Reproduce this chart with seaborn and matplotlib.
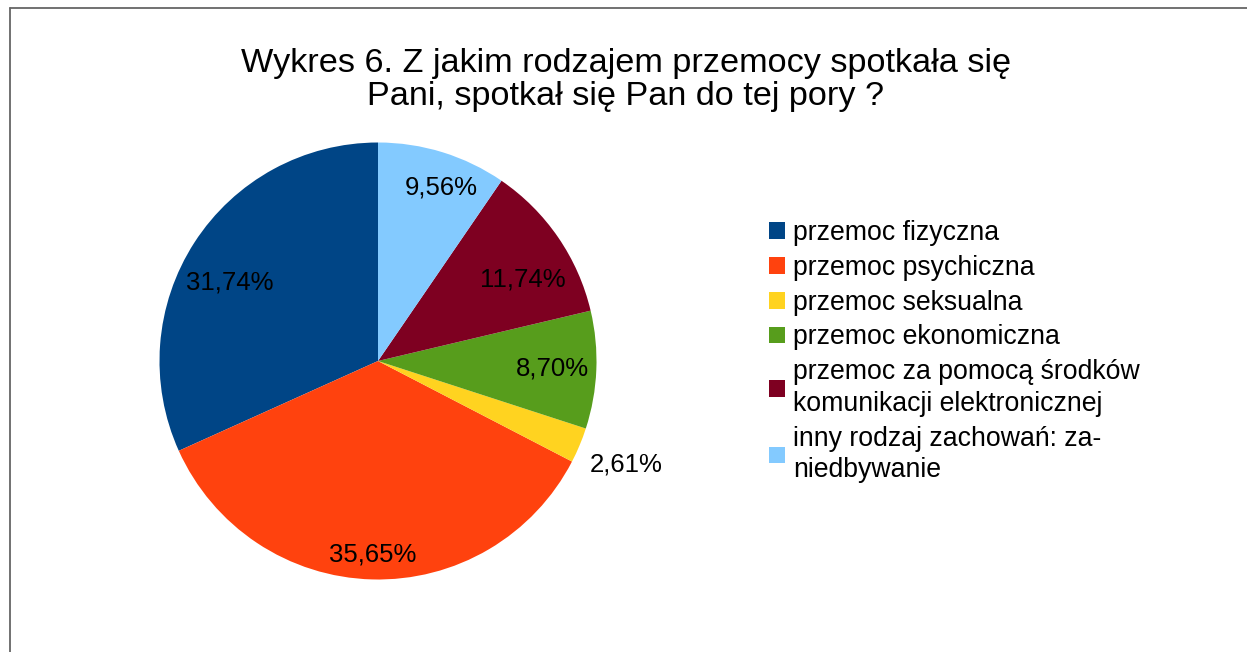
import matplotlib
matplotlib.use("Agg")
import matplotlib.pyplot as plt
from matplotlib.lines import Line2D
import numpy as np
import seaborn as sns

categories = [
    "przemoc fizyczna",
    "przemoc psychiczna",
    "przemoc seksualna",
    "przemoc ekonomiczna",
    "przemoc za pomocą środków\nkomunikacji elektronicznej",
    "inny rodzaj zachowań: za-\nniedbywanie",
]
values = [31.74, 35.65, 2.61, 8.70, 11.74, 9.56]
value_labels = ["31,74%", "35,65%", "2,61%", "8,70%", "11,74%", "9,56%"]
label_radius = [0.766, 0.888, 1.23, 0.80, 0.76, 0.844]
label_angle_shift = [5, 0, 0, 0, -5, -3]
hex_colors = ["#004586", "#ff420e", "#ffd320", "#579d1c", "#7e0021", "#83caff"]
title = "Wykres 6. Z jakim rodzajem przemocy spotkała się\nPani, spotkał się Pan do tej pory ?"

sns.set_theme(style="white")
plt.rcParams["font.family"] = ["Liberation Sans", "DejaVu Sans"]
plt.rcParams["text.color"] = "black"
colors = sns.color_palette(hex_colors)

W, H = 1247, 652
fig = plt.figure(figsize=(W / 100, H / 100), dpi=100)
fig.patch.set_facecolor("white")

cx, cy, r = 378, 361, 218.5
ax = fig.add_axes([(cx - r) / W, (H - cy - r) / H, 2 * r / W, 2 * r / H])
wedges, _ = ax.pie(values, colors=colors, startangle=90, counterclock=True,
                   radius=1, wedgeprops=dict(linewidth=0))
ax.set_xlim(-1, 1)
ax.set_ylim(-1, 1)
ax.set_aspect("equal")
ax.axis("off")

for w, lab, rr, da in zip(wedges, value_labels, label_radius, label_angle_shift):
    mid = np.deg2rad((w.theta1 + w.theta2) / 2 + da)
    ax.text(rr * np.cos(mid), rr * np.sin(mid), lab, ha="center", va="center",
            fontsize=18.5, color="black", clip_on=False)

fig.text(0.502, 1 - 80 / H, title, ha="center", va="center", fontsize=24.7,
         linespacing=1.12, color="black")

leg = fig.legend(wedges, categories, loc="upper left",
                 bbox_to_anchor=(769 / W, 1 - 220 / H), frameon=False,
                 fontsize=19.2, handlelength=0.6, handleheight=0.6,
                 handletextpad=0.3, labelspacing=0.33, borderaxespad=0,
                 borderpad=0)
for t in leg.get_texts():
    t.set_linespacing(1.28)
    t.set_color("black")

fig.add_artist(Line2D([9.5 / W, 1.0], [1 - 7.5 / H, 1 - 7.5 / H],
                      transform=fig.transFigure, color="#666666", linewidth=1.3))
fig.add_artist(Line2D([9.5 / W, 9.5 / W], [0, 1 - 7.5 / H],
                      transform=fig.transFigure, color="#666666", linewidth=1.3))

fig.savefig("out.png", dpi=100, facecolor="white")
